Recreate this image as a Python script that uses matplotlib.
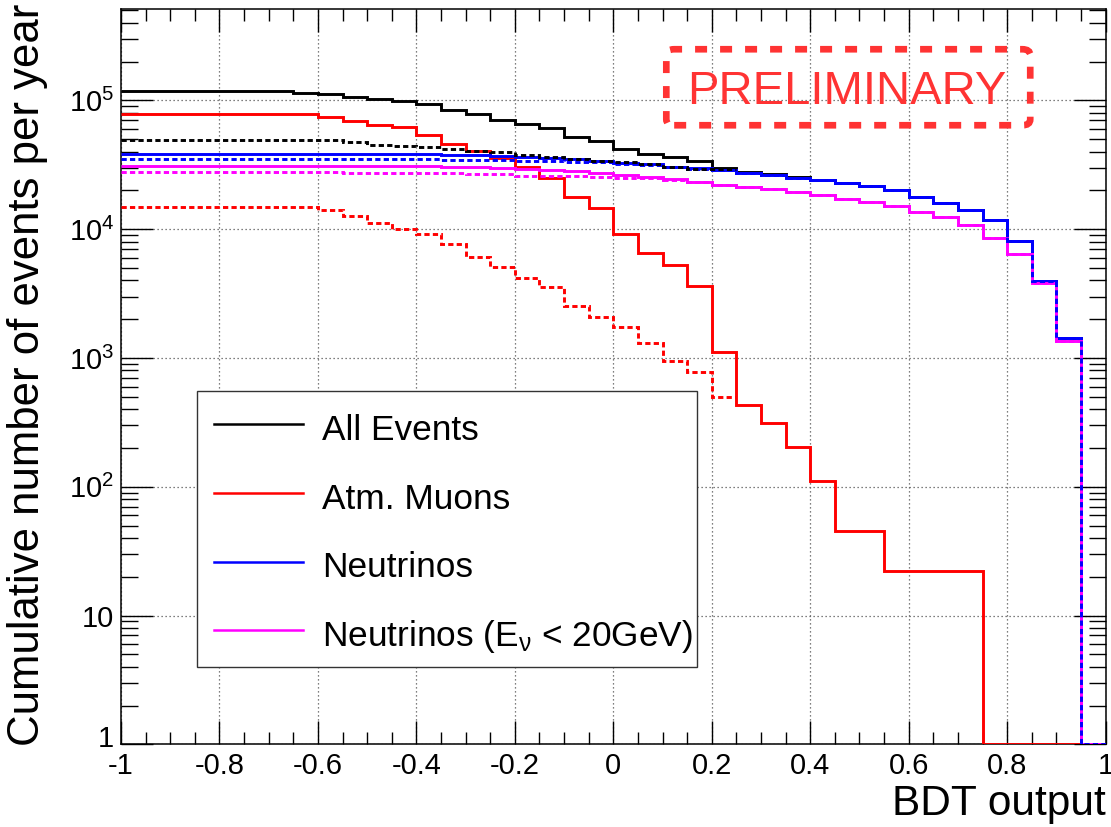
import matplotlib
matplotlib.use("Agg")
import matplotlib.pyplot as plt
import numpy as np
from matplotlib.patches import FancyBboxPatch, Rectangle
from matplotlib.ticker import FuncFormatter, LogLocator, MultipleLocator, NullFormatter
from matplotlib.transforms import ScaledTranslation

plt.rcParams["font.family"] = ["Liberation Sans", "DejaVu Sans"]
plt.rcParams["mathtext.fontset"] = "custom"
plt.rcParams["mathtext.rm"] = "Liberation Sans"
plt.rcParams["mathtext.it"] = "Liberation Sans"
plt.rcParams["mathtext.bf"] = "Liberation Sans:bold"
plt.rcParams["axes.unicode_minus"] = False

# 40 bins of width 0.05 from -1 to 1; cumulative counts per year
bdt_edges = np.round(np.linspace(-1.0, 1.0, 41), 3)

all_events = [118000, 118000, 118000, 118000, 118000, 118000, 118000, 115000,
              112000, 107000, 102000, 99300, 94200, 84100, 78300, 70300,
              65500, 60600, 52200, 48600, 41900, 38300, 36100, 34000,
              29600, 27900, 26700, 25300, 24000, 22900, 21700, 20100,
              17800, 15900, 14000, 11800, 8130, 3970, 1420, 0]
atm_muons = [78300, 78300, 78300, 78300, 78300, 78300, 78300, 78300,
             73800, 69000, 64300, 62600, 53800, 45800, 40400, 35700,
             30500, 25100, 17900, 14700, 9200, 6560, 5270, 3620,
             1120, 431, 314, 202, 111, 45, 45, 22,
             22, 22, 22, 0, 0, 0, 0, 0]
neutrinos = [38300, 38300, 38300, 38300, 38300, 38300, 38300, 38300,
             38300, 38300, 38300, 38300, 38300, 37600, 37600, 36900,
             36100, 35500, 34800, 33800, 32400, 31900, 30500, 29700,
             28800, 27500, 26400, 25100, 23900, 22900, 21700, 20100,
             17800, 15900, 14000, 11800, 8130, 3970, 1420, 0]
neutrinos_low = [30900, 30900, 30900, 30900, 30900, 30900, 30900, 30900,
                 30900, 30900, 30900, 30900, 30900, 30200, 30200, 29700,
                 29400, 28800, 28300, 27400, 26400, 25300, 24400, 23400,
                 22000, 21200, 20400, 19300, 18400, 17100, 16300, 15100,
                 13600, 12400, 10700, 8570, 6370, 3800, 1350, 0]

# dashed curves (second selection); muon-related ones stop at 0.25
all_events_dashed = [49200, 49200, 49200, 49200, 49200, 49200, 49200, 49200,
                     49200, 47700, 45200, 44500, 43600, 41900, 40600, 39500,
                     37600, 36100, 34800, 33800, 33000, 31900, 30500, 29300,
                     29300]
atm_muons_dashed = [14800, 14800, 14800, 14800, 14800, 14800, 14800, 14800,
                    14100, 12700, 11100, 9960, 9160, 7660, 6110, 5100,
                    4200, 3530, 2530, 2070, 1730, 1300, 946, 773,
                    500]
neutrinos_dashed = [34800, 34800, 34800, 34800, 34800, 34800, 34800, 34800,
                    34800, 34800, 34800, 34800, 34800, 34500, 34500, 34500,
                    34000, 34000, 33400, 33400, 31900, 31500, 30300, 29500,
                    28800, 27500, 26400, 25100, 23900, 22900, 21700, 20100,
                    17800, 15900, 14000, 11800, 8130, 3970, 1420, 0]
neutrinos_low_dashed = [27900, 27900, 27900, 27900, 27900, 27900, 27900, 27900,
                        27900, 27100, 27100, 27100, 27100, 27100, 26800, 26800,
                        26000, 26000, 25700, 25500, 25100, 24800, 24100, 23200,
                        22000, 21200, 20400, 19300, 18400, 17100, 16300, 15100,
                        13600, 12400, 10700, 8570, 6370, 3800, 1350, 0]

legend_labels = ["All Events", "Atm. Muons", "Neutrinos", r"Neutrinos (E$_{\nu}$ < 20GeV)"]
colors = ["#000000", "#ff0000", "#0000ff", "#ff00ff"]

Y_MIN, Y_MAX = 1.0, 5.1e5

fig = plt.figure(figsize=(11.11, 8.27), dpi=100)
ax = fig.add_axes([0.1089, 0.1000, 0.8863, 0.8888])
ax.set_yscale("log")


def draw(values, color, dashed=False):
    vals = np.maximum(np.asarray(values, dtype=float), Y_MIN)
    edges = bdt_edges[: len(vals) + 1]
    ls = (0, (1.8, 1.1)) if dashed else "solid"
    ax.stairs(vals, edges, baseline=None, color=color, lw=2.1, linestyle=ls, zorder=3)


for series, c in zip([all_events, atm_muons, neutrinos, neutrinos_low], colors):
    draw(series, c)
for series, c in zip([neutrinos_low_dashed, neutrinos_dashed, atm_muons_dashed, all_events_dashed],
                     [colors[3], colors[2], colors[1], colors[0]]):
    draw(series, c, dashed=True)

ax.set_xlim(-1, 1)
ax.set_ylim(Y_MIN, Y_MAX)

ax.xaxis.set_major_locator(MultipleLocator(0.2))
ax.xaxis.set_minor_locator(MultipleLocator(0.05))
ax.xaxis.set_major_formatter(FuncFormatter(lambda v, _: f"{round(v, 2) + 0:g}"))
ax.yaxis.set_major_locator(LogLocator(base=10))
ax.yaxis.set_minor_locator(LogLocator(base=10, subs=np.arange(2, 10)))
ax.yaxis.set_minor_formatter(NullFormatter())


def ylab(v, _):
    if v < 1.5:
        return "1"
    if v < 15:
        return "10"
    return r"$10^{%d}$" % round(np.log10(v))


ax.yaxis.set_major_formatter(FuncFormatter(ylab))

ax.tick_params(which="both", direction="in", top=True, right=True, width=1.0, labelsize=21)
ax.tick_params(axis="x", which="major", length=16.6, pad=5.5)
ax.tick_params(axis="x", which="minor", length=8.4)
ax.tick_params(axis="y", which="major", length=22.8, pad=5)
ax.tick_params(axis="y", which="minor", length=12)
for sp in ax.spines.values():
    sp.set_linewidth(1.1)

ax.set_axisbelow(True)
ax.grid(True, which="major", linestyle=(0, (1, 2.2)), color="#555555", lw=0.9)

fig.text(1105.5 / 1111, 1 - 815 / 827, "BDT output", fontsize=30.5, ha="right", va="baseline")
fig.text(28 / 1111, 1 - 4 / 827, "Cumulative number of events per year", fontsize=31.5,
         rotation=90, ha="center", va="top")

# legend box drawn in axes coordinates
ax.add_patch(Rectangle((0.0769, 0.1056), 0.5078, 0.3751, transform=ax.transAxes,
                       facecolor="white", edgecolor="#333333", lw=1.0, zorder=5))
row_y = [0.4354, 0.3415, 0.2484, 0.1555]
for lab, c, y in zip(legend_labels, colors, row_y):
    ax.plot([0.0944, 0.1848], [y, y], transform=ax.transAxes, color=c, lw=1.8, zorder=6)
    ax.text(0.2038, y - 0.0214, lab, transform=ax.transAxes, fontsize=25.4,
            ha="left", va="baseline", zorder=6)

# PRELIMINARY stamp
ax.add_patch(FancyBboxPatch((0.5538, 0.8422), 0.3696, 0.1034, transform=ax.transAxes,
                            boxstyle="round,pad=0,rounding_size=0.008", fill=False,
                            edgecolor="#ff3333", lw=4.8, linestyle=(0, (1.8, 1.95)), zorder=7))
ax.text(0.7375, 0.8707, "PRELIMINARY", transform=ax.transAxes, fontsize=34,
        color="#ff3333", ha="center", va="baseline", zorder=7)

# lift the lowest y label a little so it clears the "-1" below it
fig.canvas.draw()
for lbl in ax.get_yticklabels():
    if lbl.get_text() == "1":
        lbl.set_transform(lbl.get_transform() + ScaledTranslation(0, 6 / 72, fig.dpi_scale_trans))

fig.savefig("out.png", dpi=100)
